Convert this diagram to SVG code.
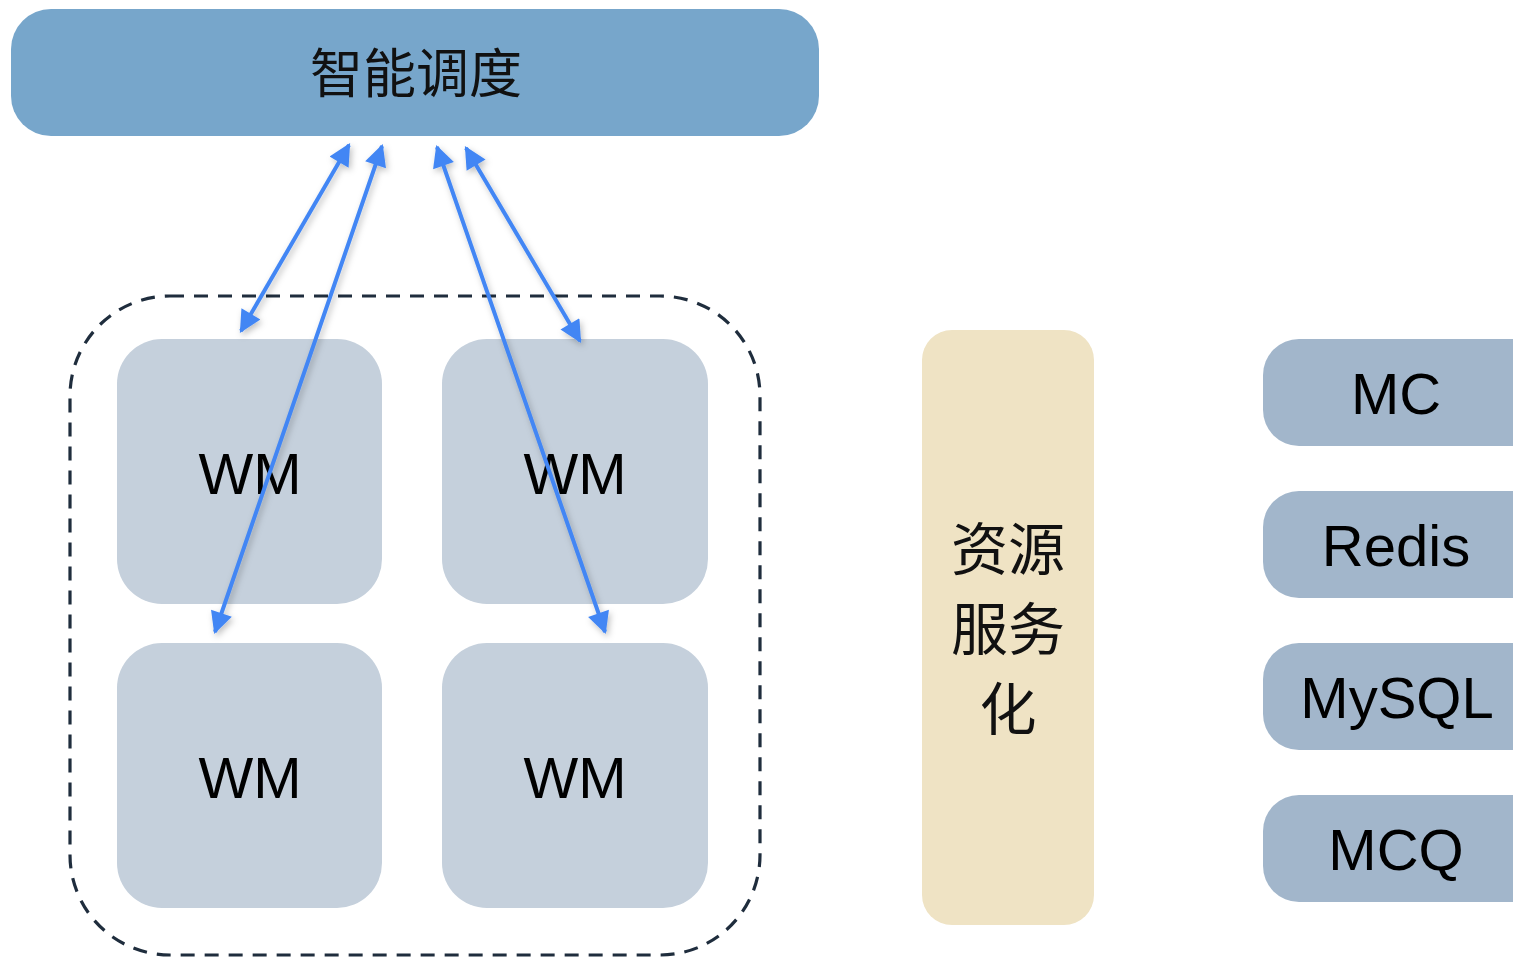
<svg xmlns="http://www.w3.org/2000/svg" width="1513" height="957" viewBox="0 0 1513 957">
<style>
.wm{fill:#c5d0dc}
.svc{fill:#a2b6cb}
.t{font-family:"Liberation Sans",Arial,sans-serif;fill:#000;text-anchor:middle;dominant-baseline:central}
.cjk{font-family:"Noto Sans CJK SC","Liberation Sans",sans-serif;fill:#111;text-anchor:middle;dominant-baseline:central}
.arr{stroke:#4286f4;stroke-width:4;fill:none;marker-start:url(#ah);marker-end:url(#ah);filter:url(#sh)}
</style>
<defs>
<marker id="ah" viewBox="0 0 10 10" refX="9" refY="5" markerWidth="6" markerHeight="5.5" orient="auto-start-reverse" markerUnits="strokeWidth">
<path d="M0,0 L10,5 L0,10 z" fill="#4286f4"/>
</marker>
<filter id="sh" x="-20%" y="-20%" width="140%" height="140%">
<feDropShadow dx="2" dy="3" stdDeviation="3" flood-color="#000" flood-opacity="0.25"/>
</filter>
</defs>
<g id="scheduler">
<rect x="11" y="9" width="808" height="127" rx="40" fill="#77a6cb"/>
<text class="cjk" x="416" y="70" font-size="53">智能调度</text>
</g>
<g id="cluster">
<rect x="70" y="296" width="690" height="659" rx="100" fill="none" stroke="#1f2d3d" stroke-width="3.2" stroke-dasharray="14,10"/>
</g>
<g id="wm1"><rect class="wm" x="117" y="339" width="265" height="265" rx="45"/><text class="t" x="250" y="473" font-size="58">WM</text></g>
<g id="wm2"><rect class="wm" x="442" y="339" width="266" height="265" rx="45"/><text class="t" x="575" y="473" font-size="58">WM</text></g>
<g id="wm3"><rect class="wm" x="117" y="643" width="265" height="265" rx="45"/><text class="t" x="250" y="777" font-size="58">WM</text></g>
<g id="wm4"><rect class="wm" x="442" y="643" width="266" height="265" rx="45"/><text class="t" x="575" y="777" font-size="58">WM</text></g>
<g id="resource">
<rect x="922" y="330" width="172" height="595" rx="30" fill="#efe3c4"/>
<text class="cjk" x="1008" y="545" font-size="57">资源</text>
<text class="cjk" x="1008" y="625" font-size="57">服务</text>
<text class="cjk" x="1008" y="705" font-size="57">化</text>
</g>
<g id="mc"><rect class="svc" x="1263" y="339" width="290" height="107" rx="36"/><text class="t" x="1396" y="393" font-size="58">MC</text></g>
<g id="redis"><rect class="svc" x="1263" y="491" width="290" height="107" rx="36"/><text class="t" x="1396" y="545" font-size="58">Redis</text></g>
<g id="mysql"><rect class="svc" x="1263" y="643" width="290" height="107" rx="36"/><text class="t" x="1397" y="697" font-size="58">MySQL</text></g>
<g id="mcq"><rect class="svc" x="1263" y="795" width="290" height="107" rx="36"/><text class="t" x="1396" y="849" font-size="58">MCQ</text></g>
<g id="connectors">
<line class="arr" x1="241" y1="331" x2="349" y2="145"/>
<line class="arr" x1="215" y1="632" x2="382" y2="146"/>
<line class="arr" x1="605" y1="632" x2="437" y2="147"/>
<line class="arr" x1="580" y1="341" x2="466" y2="148"/>
</g>
</svg>
